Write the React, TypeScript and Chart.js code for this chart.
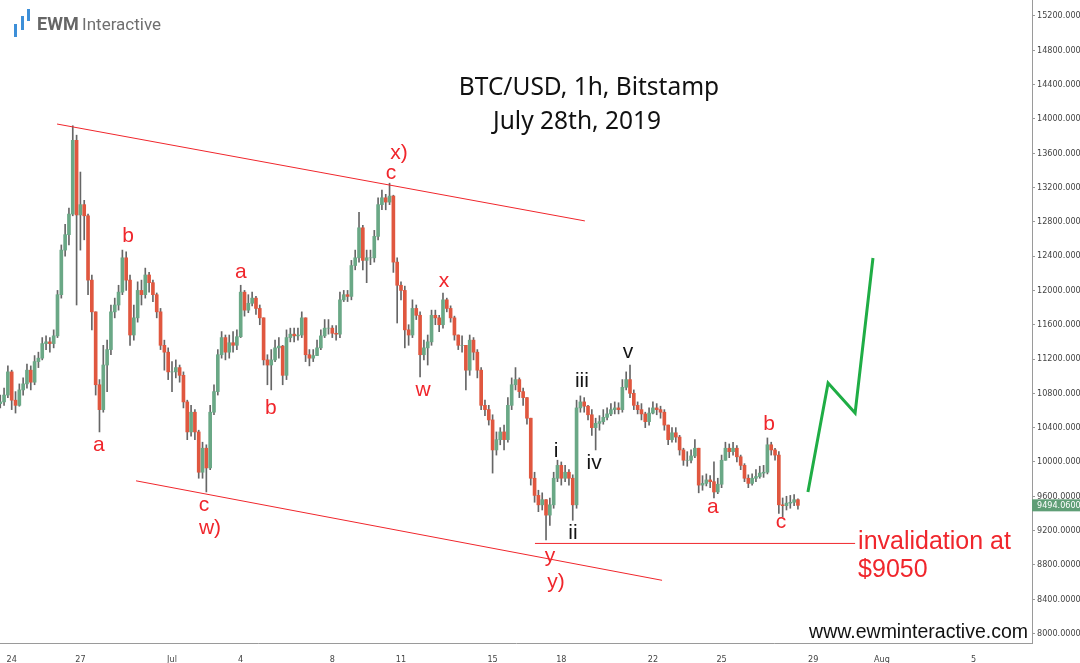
import React, { useEffect, useRef } from 'react';
import { Chart, registerables } from 'chart.js';

Chart.register(...registerables);

// Time axis: days counted from 1 Jul 2019 00:00, one 4-hour candle every 1/6 day,
// the first one opening on 23 Jun 12:00.
const firstCandleDay = -7.5;
const candleStepDay = 1 / 6;
const firstOpen = 10680;

const closes = [
  10700, 10780, 11050,
  10720, 10660, 10840, 10910, 11070, 10930,
  11170, 11210, 11380, 11400, 11380, 11470,
  11950, 12470, 12650, 12890, 13750, 12880,
  13000, 12870, 12120, 11750, 10900, 10610,
  11130, 11310, 11750, 11830, 11980, 12380,
  12120, 11480, 11680, 12000, 11950, 12180,
  12090, 11950, 11750, 11360, 11280, 11050,
  11050, 11100, 11010, 10700, 10350, 10580,
  10350, 9880, 10160, 9930, 10580, 10820,
  11250, 11450, 11280, 11390, 11360, 11460,
  11980, 11770, 11850, 11910, 11790, 11680,
  11190, 11130, 11190, 11330, 11350, 11010,
  11450, 11490, 11470, 11480, 11680, 11250,
  11210, 11240, 11330, 11470, 11560, 11560,
  11500, 11490, 11890, 11950, 11930, 12290,
  12380, 12730, 12350, 12380, 12380, 12630,
  13000, 13080, 13030, 13100, 12330, 12060,
  12000, 11540, 11480, 11790, 11710, 11250,
  11330, 11400, 11710, 11680, 11600, 11890,
  11790, 11680, 11480, 11360, 11360, 11070,
  11420, 11280, 11070, 10660, 10610, 10490,
  10140, 10260, 10350, 10260, 10660, 10900,
  10960, 10820, 10750, 10510, 9810, 9610,
  9500, 9560, 9380, 9500, 9810, 9960,
  9810, 9880, 9810, 9500, 10630, 10700,
  10650, 10550, 10400, 10450, 10470, 10520,
  10560, 10610, 10630, 10610, 10870, 10960,
  10800, 10660, 10610, 10560, 10470, 10570,
  10630, 10610, 10580, 10430, 10260, 10340,
  10290, 10140, 10020, 10020, 10070, 10160,
  9730, 9750, 9790, 9770, 9650, 9740,
  10020, 10160, 10120, 10160, 10060, 9960,
  9810, 9750, 9810, 9830, 9870, 9880,
  10200, 10140, 10080, 9500, 9490, 9520,
  9530, 9560, 9494.06,
];

const highs = [
  10780, 10860, 11120,
  11070, 10820, 10910, 10980, 11140, 11120,
  11240, 11280, 11450, 11470, 11450, 11540,
  12000, 12530, 12770, 12960, 13920, 13810,
  13380, 13050, 12890, 12180, 11660, 10960,
  11360, 11420, 11830, 11910, 12060, 12470,
  12450, 12180, 11830, 12100, 12120, 12260,
  12210, 12120, 11970, 11790, 11420, 11330,
  11170, 11190, 11130, 11050, 10720, 10660,
  10610, 10370, 10230, 10200, 10660, 10900,
  11310, 11520, 11480, 11480, 11520, 11540,
  12060, 12000, 11950, 11980, 11930, 11830,
  11680, 11250, 11310, 11420, 11450, 11360,
  11540, 11560, 11560, 11560, 11750, 11680,
  11310, 11310, 11420, 11540, 11660, 11660,
  11590, 11590, 11980, 12000, 12000, 12350,
  12470, 12910, 12760, 12470, 12470, 12700,
  13080, 13170, 13120, 13250, 13110, 12380,
  12100, 12050, 11600, 11890, 11830, 11750,
  11420, 11480, 11770, 11770, 11710, 11970,
  11910, 11820, 11700, 11480, 11470, 11360,
  11480, 11450, 11310, 11100, 10720, 10660,
  10550, 10350, 10400, 10430, 10750, 10980,
  11100, 10980, 10860, 10750, 10510, 9880,
  9670, 9640, 9560, 9580, 9880, 10020,
  10000, 9960, 9910, 9850, 10720, 10770,
  10750, 10660, 10610, 10510, 10540, 10610,
  10630, 10680, 10700, 10690, 10960, 11050,
  11130, 10840, 10700, 10680, 10580, 10630,
  10700, 10680, 10650, 10610, 10430, 10400,
  10400, 10310, 10160, 10120, 10140, 10260,
  10160, 9840, 9860, 9840, 10000, 9810,
  10080, 10230, 10210, 10230, 10190, 10080,
  9980, 9850, 9860, 9910, 9950, 9960,
  10280, 10230, 10160, 10120, 9580, 9600,
  9610, 9620, 9570,
];

const lows = [
  10630, 10660, 10750,
  10610, 10570, 10650, 10780, 10860, 10840,
  10900, 11100, 11190, 11310, 11280, 11330,
  11450, 11910, 12400, 12530, 12870, 11830,
  12470, 12590, 11950, 11540, 10780, 10350,
  10580, 10820, 11250, 11680, 11770, 11950,
  12000, 11360, 11420, 11630, 11830, 11910,
  11980, 11870, 11680, 11310, 11070, 10960,
  10820, 10980, 10930, 10630, 10260, 10300,
  10260, 9810, 9810, 9650, 9910, 10550,
  10780, 11210, 11190, 11210, 11280, 11310,
  11450, 11700, 11740, 11820, 11720, 11600,
  11130, 10900, 10840, 11170, 11210, 10900,
  10960, 11400, 11400, 11420, 11450, 11170,
  11120, 11170, 11240, 11310, 11450, 11490,
  11450, 11420, 11450, 11870, 11870, 11890,
  12240, 12330, 12240, 12090, 12300, 12330,
  12590, 12940, 12940, 13000, 12210, 11620,
  11890, 11330, 11360, 11450, 11660, 10990,
  11190, 11130, 11360, 11600, 11520, 11560,
  11750, 11630, 11420, 11310, 11280, 10840,
  11010, 11190, 10980, 10610, 10540, 10430,
  9870, 10080, 10200, 10140, 10230, 10610,
  10840, 10750, 10660, 10440, 9730, 9530,
  9420, 9440, 9090, 9260, 9460, 9770,
  9730, 9770, 9730, 9320, 9460, 10580,
  10580, 10490, 10310, 10140, 10370, 10440,
  10490, 10540, 10560, 10560, 10580, 10840,
  10750, 10610, 10560, 10490, 10400, 10430,
  10560, 10550, 10510, 10370, 10200, 10230,
  10230, 10080, 9960, 9950, 9990, 10050,
  9640, 9670, 9720, 9700, 9580, 9630,
  9700, 10070, 10050, 10080, 10000, 9910,
  9770, 9700, 9730, 9770, 9810, 9820,
  9860, 10080, 10020, 9400, 9360, 9440,
  9460, 9490, 9450,
];

const xTickDays = [-7, -4, 0, 3, 7, 10, 14, 17, 21, 24, 28, 31, 35];
const xTickLabels = ['24', '27', 'Jul', '4', '8', '11', '15', '18', '22', '25', '29', 'Aug', '5'];
const yTickValues = [8000, 8400, 8800, 9200, 9600, 10000, 10400, 10800, 11200, 11600, 12000, 12400, 12800, 13200, 13600, 14000, 14400, 14800, 15200];

const upperChannel = [{ x: -5.02, y: 13940 }, { x: 18.03, y: 12810 }];
const lowerChannel = [{ x: -1.57, y: 9780 }, { x: 21.4, y: 8620 }];
const invalidationLevel = 9050;
const invalidationDays = [15.85, 29.83];
const projectionDays = [27.77, 28.65, 29.83, 30.61];
const projectionPrices = [9650, 10920, 10570, 12378];

const redWaveLabels = ['a', 'b', 'c', 'w)', 'a', 'b', 'c', 'x)', 'x', 'w', 'y', 'y)', 'a', 'b', 'c'];
const redWaveDays = [-3.19, -1.92, 1.4, 1.66, 3.01, 4.32, 9.56, 9.91, 11.88, 10.96, 16.51, 16.77, 23.62, 26.07, 26.59];
const redWavePrices = [10197, 12634, 9498, 9230, 12215, 10629, 13369, 13602, 12110, 10839, 8903, 8600, 9474, 10442, 9300];
const blackWaveLabels = ['i', 'ii', 'iii', 'iv', 'v'];
const blackWaveDays = [16.77, 17.51, 17.9, 18.43, 19.91];
const blackWavePrices = [10127, 9171, 10944, 9987, 11282];

const titleLines = ['BTC/USD, 1h, Bitstamp', 'July 28th, 2019'];
const invalidationText = ['invalidation at', '$9050'];
const invalidationTextDay = 29.96;
const invalidationTextPrices = [9066, 8740];
const lastPrice = 9494.06;

const RED = '#f0262c';
const UP = '#6aa886';
const DOWN = '#e0573f';
const WICK = 'rgba(85,85,85,0.9)';
const AXIS = '#9a9a9a';
const TICK_FONT = '"DejaVu Sans Condensed", "Liberation Sans Narrow", "Liberation Sans", sans-serif';
const LABEL_FONT = '"Liberation Sans", Arial, sans-serif';

const overlayPlugin = {
  id: 'overlay',
  afterDraw(chart: any) {
    const ctx = chart.ctx as CanvasRenderingContext2D;
    const xs = chart.scales.x;
    const ys = chart.scales.y;
    const area = chart.chartArea;
    ctx.save();

    // wave labels
    ctx.textAlign = 'center';
    ctx.textBaseline = 'middle';
    ctx.font = `21px ${LABEL_FONT}`;
    ctx.fillStyle = RED;
    redWaveLabels.forEach((t, i) => {
      ctx.fillText(t, xs.getPixelForValue(redWaveDays[i]), ys.getPixelForValue(redWavePrices[i]));
    });
    ctx.fillStyle = '#141414';
    blackWaveLabels.forEach((t, i) => {
      ctx.fillText(t, xs.getPixelForValue(blackWaveDays[i]), ys.getPixelForValue(blackWavePrices[i]));
    });

    // invalidation note
    ctx.textAlign = 'left';
    ctx.font = `25px ${LABEL_FONT}`;
    ctx.fillStyle = RED;
    invalidationText.forEach((t, i) => {
      ctx.fillText(t, xs.getPixelForValue(invalidationTextDay), ys.getPixelForValue(invalidationTextPrices[i]));
    });

    // title
    ctx.textAlign = 'center';
    ctx.fillStyle = '#111';
    ctx.font = `24.5px "Noto Sans", sans-serif`;
    ctx.fillText(titleLines[0], 589, 88);
    ctx.fillText(titleLines[1], 577, 122);

    // website
    ctx.textAlign = 'right';
    ctx.font = `19.5px ${LABEL_FONT}`;
    ctx.fillStyle = '#111';
    ctx.fillText('www.ewminteractive.com', area.right - 4, 633);

    // logo
    ctx.fillStyle = '#3d8fd8';
    ctx.fillRect(14, 24, 3, 13);
    ctx.fillRect(21, 16, 3, 14);
    ctx.fillRect(27, 9, 3, 12);
    ctx.textAlign = 'left';
    ctx.textBaseline = 'alphabetic';
    ctx.fillStyle = '#666';
    ctx.font = `bold 18px Roboto, sans-serif`;
    ctx.fillText('EWM', 37, 30);
    const w = ctx.measureText('EWM ').width;
    ctx.fillStyle = '#707070';
    ctx.font = `17px Roboto, sans-serif`;
    ctx.fillText('Interactive', 37 + w - 1, 30);

    // last price tag
    const py = ys.getPixelForValue(lastPrice);
    ctx.fillStyle = '#5f9e76';
    ctx.fillRect(area.right, py - 6, 1080 - area.right, 12);
    ctx.fillStyle = '#fff';
    ctx.font = `9px ${TICK_FONT}`;
    ctx.textBaseline = 'middle';
    ctx.fillText(lastPrice.toFixed(4), area.right + 5, py);
    ctx.restore();
  },
};

export default function App() {
  const ref = useRef<HTMLCanvasElement>(null);
  useEffect(() => {
    document.body.style.margin = '0';
    const canvas = ref.current;
    if (!canvas) return;
    const candleDays = closes.map((_, i) => firstCandleDay + i * candleStepDay);
    const opens = closes.map((_, i) => (i === 0 ? firstOpen : closes[i - 1]));
    const bodies = closes.map((c, i) => ({ x: candleDays[i], y: [opens[i], c] }));
    const wicks = closes.map((c, i) => ({
      x: candleDays[i],
      y: [Math.min(lows[i], opens[i], c), Math.max(highs[i], opens[i], c)],
    }));
    const bodyColors = closes.map((c, i) => (c >= opens[i] ? UP : DOWN));

    const chart = new Chart(canvas, {
      type: 'bar',
      data: {
        datasets: [
          {
            type: 'line',
            data: projectionDays.map((d, i) => ({ x: d, y: projectionPrices[i] })),
            borderColor: '#1fad45',
            borderWidth: 3,
            pointRadius: 0,
            tension: 0,
          },
          { type: 'line', data: upperChannel, borderColor: RED, borderWidth: 1, pointRadius: 0 },
          { type: 'line', data: lowerChannel, borderColor: RED, borderWidth: 1, pointRadius: 0 },
          {
            type: 'line',
            data: invalidationDays.map((d) => ({ x: d, y: invalidationLevel })),
            borderColor: RED,
            borderWidth: 1,
            pointRadius: 0,
          },
          {
            type: 'bar',
            data: bodies,
            backgroundColor: bodyColors,
            barThickness: 3,
            grouped: false,
            borderWidth: 0,
          },
          {
            type: 'bar',
            data: wicks,
            backgroundColor: WICK,
            barThickness: 1,
            grouped: false,
            borderWidth: 0,
          },
        ],
      } as any,
      options: {
        responsive: false,
        animation: false,
        devicePixelRatio: 1,
        events: [],
        layout: { padding: 0 },
        plugins: { legend: { display: false }, tooltip: { enabled: false } },
        scales: {
          x: {
            type: 'linear',
            min: -172 / 22.9,
            max: (1032 - 172) / 22.9,
            offset: false,
            grid: { display: false },
            border: { display: true, color: AXIS },
            ticks: {
              autoSkip: false,
              maxRotation: 0,
              padding: 3,
              color: '#444',
              font: { family: TICK_FONT, size: 9 },
              callback: (v: any) => xTickLabels[xTickDays.indexOf(Number(v))] ?? '',
            },
            afterBuildTicks: (s: any) => {
              s.ticks = xTickDays.map((v) => ({ value: v }));
            },
            afterFit: (s: any) => {
              s.height = 20;
              s.paddingLeft = 0;
              s.paddingRight = 0;
            },
          },
          y: {
            type: 'linear',
            position: 'right',
            min: 7889,
            max: 15386,
            grid: { drawOnChartArea: false, drawTicks: true, tickLength: 3, color: AXIS },
            border: { display: true, color: AXIS },
            ticks: {
              padding: 2,
              color: '#444',
              font: { family: TICK_FONT, size: 9 },
              callback: (v: any) => (Number(v) >= 10000 ? Number(v).toFixed(3) : Number(v).toFixed(4)),
            },
            afterBuildTicks: (s: any) => {
              s.ticks = yTickValues.map((v) => ({ value: v }));
            },
            afterFit: (s: any) => {
              s.width = 48;
              s.paddingTop = 0;
              s.paddingBottom = 0;
            },
          },
        },
      } as any,
      plugins: [overlayPlugin],
    });
    return () => chart.destroy();
  }, []);
  return (
    <div style={{ width: 1080, height: 663, background: '#fff' }}>
      <canvas ref={ref} width={1080} height={663} style={{ display: 'block' }} />
    </div>
  );
}
